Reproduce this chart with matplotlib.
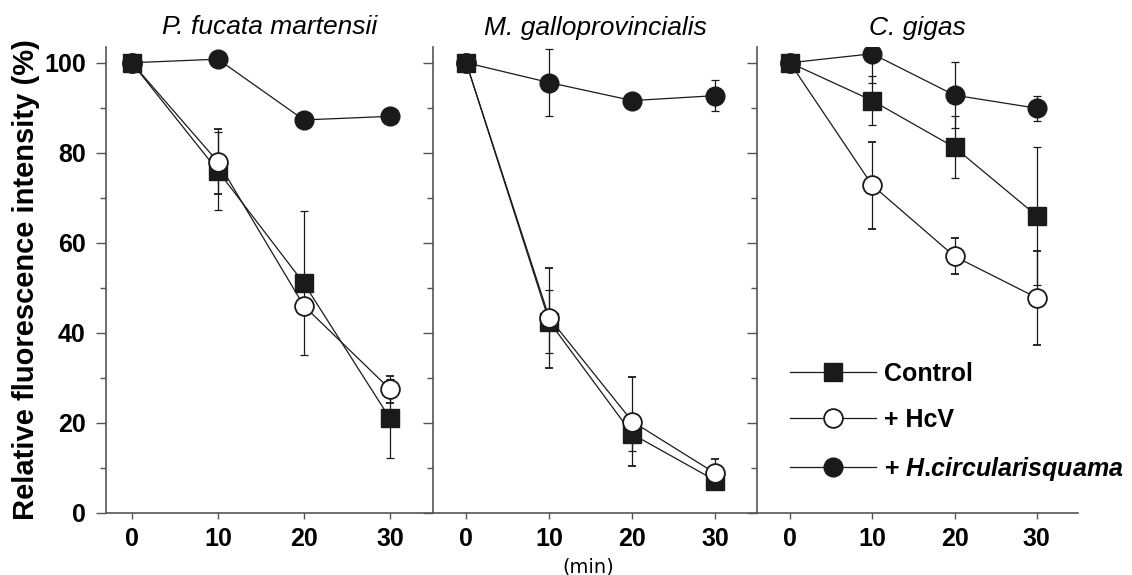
import numpy as np
import matplotlib.pyplot as plt
from matplotlib.ticker import MultipleLocator

plt.rcParams['font.family'] = ['Liberation Sans', 'DejaVu Sans']
plt.rcParams['font.weight'] = 'bold'
plt.rcParams['mathtext.fontset'] = 'custom'
plt.rcParams['mathtext.bfit'] = 'Liberation Sans:italic:bold'

# data (time in min, values in %)
time = [0, 10, 20, 30]
species = ["P. fucata martensii", "M. galloprovincialis", "C. gigas"]
labels = ["Control", "+ HcV", r"+ $\mathbfit{H}$.$\mathbfit{circularisquama}$"]

ctrl_pf = [100, 76, 51, 21]
ctrl_pf_err = [0, 8.7, 16, 8.7]
hcv_pf = [100, 78, 46, 27.5]
hcv_pf_err = [0, 7.2, 1.5, 3]
hc_pf = [100, 100.8, 87.3, 88.1]
hc_pf_err = [0, 1, 1, 1]

ctrl_mg = [100, 42.5, 17.5, 7.2]
ctrl_mg_err = [0, 7, 3.7, 1.5]
hcv_mg = [100, 43.3, 20.3, 8.8]
hcv_mg_err = [0, 11.2, 9.8, 3.3]
hc_mg = [100, 95.6, 91.6, 92.7]
hc_mg_err = [0, 7.4, 1.5, 3.5]

ctrl_cg = [100, 91.6, 81.2, 66]
ctrl_cg_err = [0, 5.5, 6.9, 15.4]
hcv_cg = [100, 72.8, 57, 47.8]
hcv_cg_err = [0, 9.7, 4, 10.4]
hc_cg = [100, 102, 92.8, 89.9]
hc_cg_err = [0, 6.5, 7.3, 2.8]

panels = [
    (ctrl_pf, ctrl_pf_err, hcv_pf, hcv_pf_err, hc_pf, hc_pf_err),
    (ctrl_mg, ctrl_mg_err, hcv_mg, hcv_mg_err, hc_mg, hc_mg_err),
    (ctrl_cg, ctrl_cg_err, hcv_cg, hcv_cg_err, hc_cg, hc_cg_err),
]

W, H = 1132, 575
fig = plt.figure(figsize=(W / 100, H / 100), dpi=100)

px = [(106, 433), (433, 757), (757, 1078)]
xlims = [(-3, 35), (-4, 35), (-4, 35)]
y_bot, y_top = 513, 47
spine_c = "#555555"
line_c = "#1a1a1a"

axes = []
for i, (x0, x1) in enumerate(px):
    ax = fig.add_axes([x0 / W, (H - y_bot) / H, (x1 - x0) / W, (y_bot - y_top) / H])
    axes.append(ax)
    ctrl, ctrl_err, hcv, hcv_err, hc, hc_err = panels[i]

    common = dict(color=line_c, lw=0.9, elinewidth=0.9, capsize=3, capthick=0.9, ms=13.5, mec=line_c)
    e1 = ax.errorbar(time, ctrl, yerr=ctrl_err, fmt='-s', mfc=line_c, zorder=3, **common)
    e2 = ax.errorbar(time, hcv, yerr=hcv_err, fmt='-o', mfc='white', mew=1.3, zorder=4, **common)
    e3 = ax.errorbar(time, hc, yerr=hc_err, fmt='-o', mfc=line_c, zorder=5, **common)

    ax.set_xlim(*xlims[i])
    ax.set_ylim(0, 103.5)
    ax.set_xticks(time)
    ax.set_yticks(range(0, 101, 20))
    ax.yaxis.set_minor_locator(MultipleLocator(10))
    for s in ["top", "right"]:
        ax.spines[s].set_visible(False)
    for s in ["left", "bottom"]:
        ax.spines[s].set_color(spine_c)
        ax.spines[s].set_linewidth(1.2)
    ax.tick_params(axis='y', which='major', direction='out', length=7.5, width=1, color=spine_c,
                   pad=7, labelsize=18, labelleft=(i == 0))
    ax.tick_params(axis='y', which='minor', direction='out', length=4, width=1, color=spine_c)
    ax.tick_params(axis='x', which='major', direction='out', length=4, width=1, color=spine_c,
                   pad=6, labelsize=18)
    ax.set_title(species[i], fontsize=19, fontstyle='italic', fontweight='normal', pad=9)

    if i == 2:
        ax.legend([e1.lines[0], e2.lines[0], e3.lines[0]], labels, loc='upper left',
                  bbox_to_anchor=(0.103, 0.325), frameon=False, fontsize=18,
                  handlelength=3.45, handletextpad=0.3, labelspacing=0.9,
                  borderpad=0, borderaxespad=0)

axes[0].set_ylabel("Relative fluorescence intensity (%)", fontsize=21, fontweight='bold', labelpad=3)
fig.text(588 / W, 1 - 567 / H, "(min)", fontsize=14, fontweight='normal',
         ha='center', va='center', family='DejaVu Sans')

fig.savefig("out.png", dpi=100)
